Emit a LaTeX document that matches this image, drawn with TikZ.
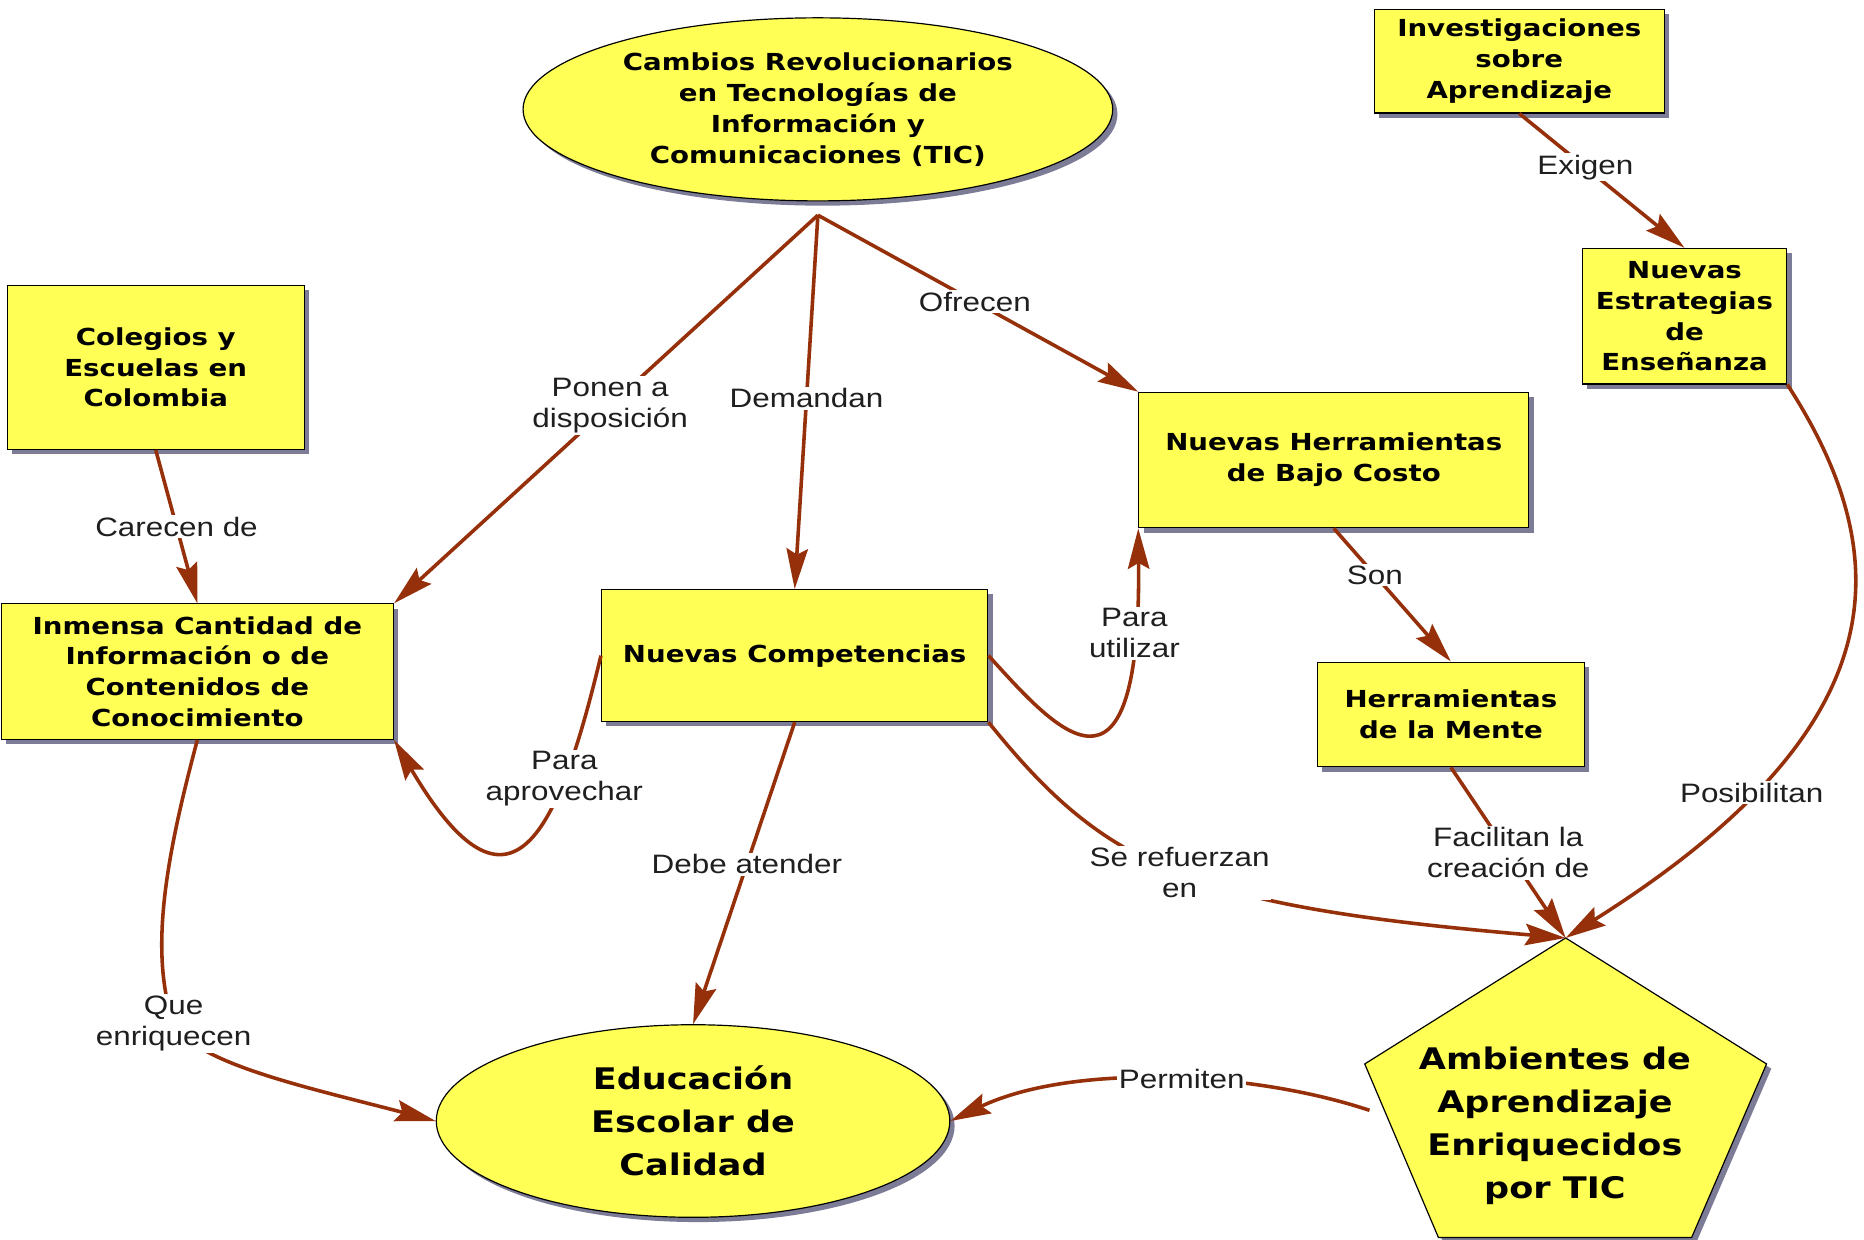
\documentclass[tikz,border=0pt]{standalone}
\usepackage{fontspec}
\setmainfont{Liberation Sans}[FakeStretch=1.18]
\newfontfamily\mapfont{DejaVu Sans}[FakeStretch=1.18]
\usepackage{tikz}
\usetikzlibrary{shapes.geometric}
\usetikzlibrary{shadows}
\usetikzlibrary{arrows.meta}
\definecolor{mapyellow}{RGB}{255,255,85}
\definecolor{mapbrown}{RGB}{150,48,10}
\definecolor{mapshadow}{RGB}{110,110,140}
\tikzset{
  concept/.style={draw=black, line width=1pt, fill=mapyellow, align=center, inner sep=1pt,
    font=\mapfont\bfseries\fontsize{19.7}{26}\selectfont,
    drop shadow={shadow xshift=4pt, shadow yshift=-4pt, fill=mapshadow, opacity=0.9}},
  box/.style={concept, rectangle},
  oval/.style={concept, ellipse},
  bigtext/.style={font=\mapfont\bfseries\fontsize{25}{36}\selectfont},
  link/.style={draw=mapbrown, line width=3pt, -{Stealth[length=34pt,width=18pt,inset=5pt]}},
  lab/.style={fill=white, inner sep=1.5pt, align=center, text=black!88,
    font=\fontsize{22.4}{26}\selectfont},
}
\newcommand{\mapbox}[6]{ \node[box, minimum width=#4pt, minimum height=#5pt] (#1) at (#2,#3) {#6};}

\begin{document}
\begin{tikzpicture}[x=1pt, y=-1pt]
\fill[white] (0,0) rectangle (1568,1043);
\useasboundingbox (0,0) rectangle (1568,1043);
% ovals
\node[oval, minimum width=496pt, minimum height=154pt] (tic) at (688,92)
  {Cambios Revolucionarios\\en Tecnologías de\\Información y\\Comunicaciones (TIC)};
\node[oval, bigtext, minimum width=432pt, minimum height=162pt] (edu) at (583,943)
  {Educación\\Escolar de\\Calidad};
\coordinate (ticfoot) at (688,181);
% boxes
\mapbox{inv}{1278}{51.5}{244}{87}{Investigaciones\\sobre\\Aprendizaje}
\mapbox{estr}{1417}{266}{172}{114}{Nuevas\\Estrategias\\de\\Enseñanza}
\mapbox{col}{131}{309}{250}{138}{Colegios y\\Escuelas en\\Colombia}
\mapbox{herr}{1122}{387}{328}{114}{Nuevas Herramientas\\de Bajo Costo}
\mapbox{inm}{166}{565}{330}{114}{Inmensa Cantidad de\\Información o de\\Contenidos de\\Conocimiento}
\mapbox{comp}{668.5}{551.5}{325}{111}{Nuevas Competencias}
\mapbox{mente}{1220.5}{601}{225}{88}{Herramientas\\de la Mente}
% pentagon
\coordinate (ambtop) at (1317,789);
\coordinate (ambright) at (1486,895);
\coordinate (ambbr) at (1423,1041);
\coordinate (ambbl) at (1210,1041);
\coordinate (ambleft) at (1148,895);
\coordinate (ambside) at (1152,934);
\draw[concept] (ambtop) -- (ambright) -- (ambbr) -- (ambbl) -- (ambleft) -- cycle;
\node[bigtext, align=center] (amb) at (1308,947) {Ambientes de\\Aprendizaje\\Enriquecidos\\por TIC};

% links from top
\draw[link] (ticfoot) -- node[lab, pos=0.49]{Ponen a\\disposición} (inm.north east);
\draw[link] (ticfoot) -- node[lab, pos=0.49]{Demandan} (comp.north);
\draw[link] (ticfoot) -- node[lab, pos=0.49]{Ofrecen} (herr.north west);
\draw[link] (inv.south) -- node[lab, pos=0.4]{Exigen} (estr.north);
\draw[link] (col.south) -- node[lab]{Carecen de} (inm.north);
\draw[link] (herr.south) -- node[lab, pos=0.35]{Son} (mente.north);
% curved links
\draw[link] (comp.west) .. controls (470,700) and (430,790) .. node[lab, pos=0.27]{Para\\aprovechar} (inm.south east);
\draw[link] (comp.east) .. controls (885,610) and (960,700) .. node[lab, pos=0.86]{Para\\utilizar} (herr.south west);
\draw[link] (comp.south) -- node[lab, pos=0.47]{Debe atender} (edu.north);
\draw[link] (comp.south east) .. controls (930,730) and (1000,762) .. node[lab, pos=0.5]{Se refuerzan\\en} (ambtop);
\draw[link] (mente.south) -- node[lab]{Facilitan la\\creación de} (ambtop);
\draw[link] (estr.south east) .. controls (1605,480) and (1585,620) .. node[lab, pos=0.75]{Posibilitan} (ambtop);
% into education
\draw[link] (inm.south) .. controls (140,720) and (125,800) .. (146,861) node[lab]{Que\\enriquecen}
  .. controls (165,895) and (260,915) .. (edu.west);
\draw[link] (ambside) .. controls (1050,900) and (900,895) .. node[lab, pos=0.45]{Permiten} (edu.east);
\end{tikzpicture}
\end{document}
